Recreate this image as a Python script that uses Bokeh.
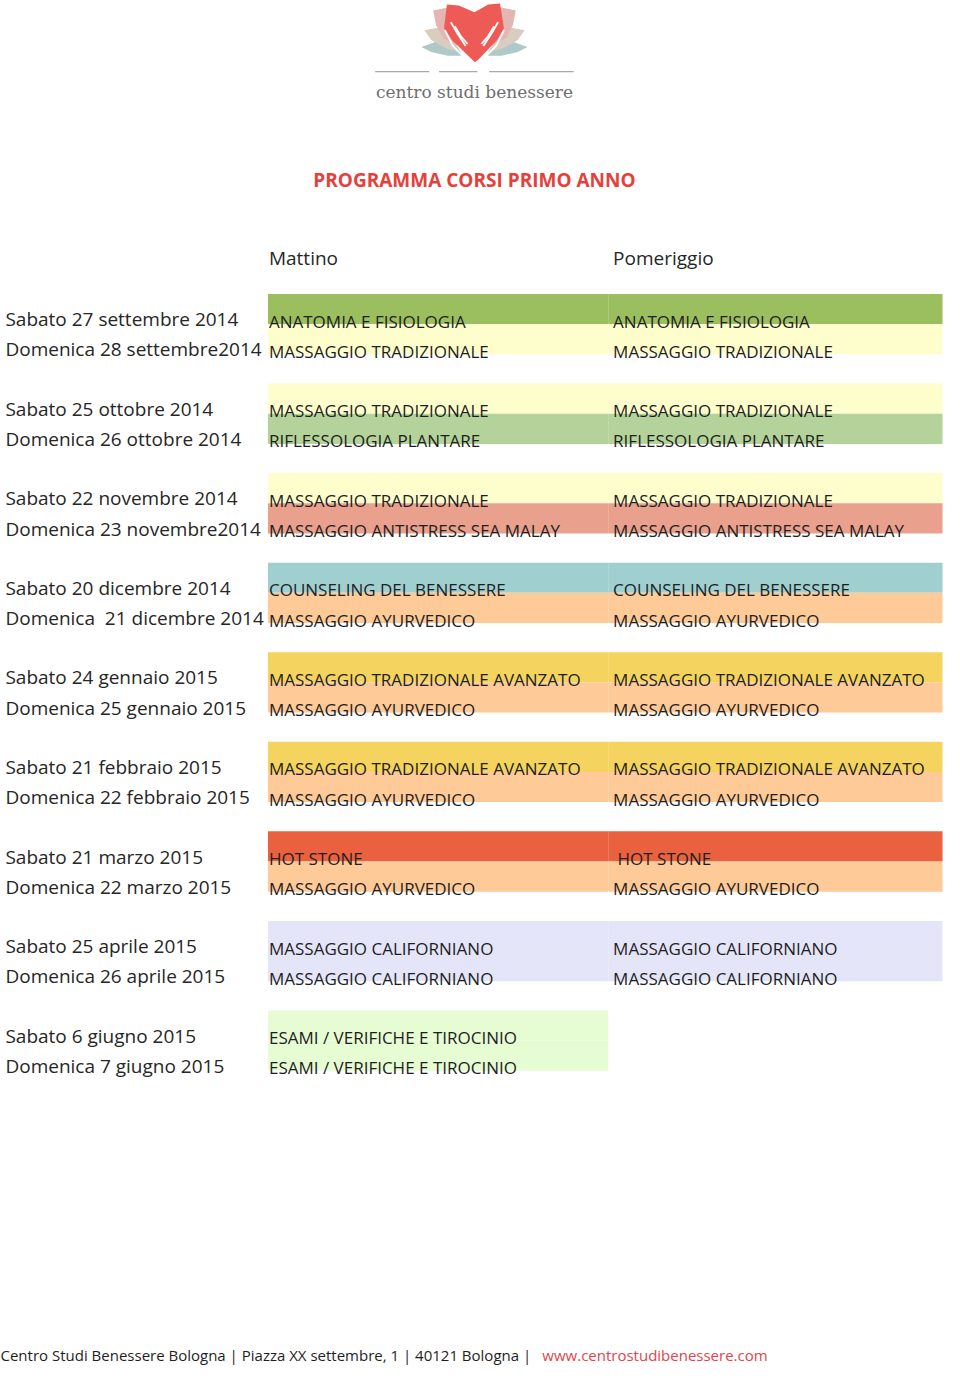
from bokeh.plotting import figure
from bokeh.models import Range1d
from bokeh.core.properties import value
from bokeh.embed import file_html
from bokeh.resources import INLINE

# ---------------- data ----------------
title = "PROGRAMMA CORSI PRIMO ANNO"
col_headers = ["Mattino", "Pomeriggio"]
dates = [
    "Sabato 27 settembre 2014", "Domenica 28 settembre2014",
    "Sabato 25 ottobre 2014", "Domenica 26 ottobre 2014",
    "Sabato 22 novembre 2014", "Domenica 23 novembre2014",
    "Sabato 20 dicembre 2014", "Domenica\u00a0 21 dicembre 2014",
    "Sabato 24 gennaio 2015", "Domenica 25 gennaio 2015",
    "Sabato 21 febbraio 2015", "Domenica 22 febbraio 2015",
    "Sabato 21 marzo 2015", "Domenica 22 marzo 2015",
    "Sabato 25 aprile 2015", "Domenica 26 aprile 2015",
    "Sabato 6 giugno 2015", "Domenica 7 giugno 2015",
]
mattino = [
    "ANATOMIA E FISIOLOGIA", "MASSAGGIO TRADIZIONALE",
    "MASSAGGIO TRADIZIONALE", "RIFLESSOLOGIA PLANTARE",
    "MASSAGGIO TRADIZIONALE", "MASSAGGIO ANTISTRESS SEA MALAY",
    "COUNSELING DEL BENESSERE", "MASSAGGIO AYURVEDICO",
    "MASSAGGIO TRADIZIONALE AVANZATO", "MASSAGGIO AYURVEDICO",
    "MASSAGGIO TRADIZIONALE AVANZATO", "MASSAGGIO AYURVEDICO",
    "HOT STONE", "MASSAGGIO AYURVEDICO",
    "MASSAGGIO CALIFORNIANO", "MASSAGGIO CALIFORNIANO",
    "ESAMI / VERIFICHE E TIROCINIO", "ESAMI / VERIFICHE E TIROCINIO",
]
pomeriggio = [
    "ANATOMIA E FISIOLOGIA", "MASSAGGIO TRADIZIONALE",
    "MASSAGGIO TRADIZIONALE", "RIFLESSOLOGIA PLANTARE",
    "MASSAGGIO TRADIZIONALE", "MASSAGGIO ANTISTRESS SEA MALAY",
    "COUNSELING DEL BENESSERE", "MASSAGGIO AYURVEDICO",
    "MASSAGGIO TRADIZIONALE AVANZATO", "MASSAGGIO AYURVEDICO",
    "MASSAGGIO TRADIZIONALE AVANZATO", "MASSAGGIO AYURVEDICO",
    "\u00a0HOT STONE", "MASSAGGIO AYURVEDICO",
    "MASSAGGIO CALIFORNIANO", "MASSAGGIO CALIFORNIANO",
    "", "",
]
footer_text = "Centro Studi Benessere Bologna | Piazza XX settembre, 1 | 40121 Bologna |"
footer_link = "www.centrostudibenessere.com"
logo_text = "centro studi benessere"

# ---------------- styles ----------------
course_colors = {
    "ANATOMIA E FISIOLOGIA": "#9BBF5F",
    "MASSAGGIO TRADIZIONALE": "#FEFECC",
    "RIFLESSOLOGIA PLANTARE": "#B4D39A",
    "MASSAGGIO ANTISTRESS SEA MALAY": "#E9A08C",
    "COUNSELING DEL BENESSERE": "#A0CFD0",
    "MASSAGGIO AYURVEDICO": "#FDCA98",
    "MASSAGGIO TRADIZIONALE AVANZATO": "#F4D35F",
    "HOT STONE": "#E9613F",
    "MASSAGGIO CALIFORNIANO": "#E4E5F9",
    "ESAMI / VERIFICHE E TIROCINIO": "#E6FDD3",
}
FONT = value("Open Sans")
TOP0, PAIR_PITCH, ROW_H = 297.0, 90.6, 30.5
X_DATE, X_M, X_P, X_SPLIT, X_END = 5, 273, 623, 618, 958

p = figure(width=944, height=1366, x_range=Range1d(0, 960), y_range=Range1d(1382, 0),
           output_backend="svg", toolbar_location=None, min_border=0)
p.axis.visible = False
p.grid.visible = False
p.outline_line_color = None
p.background_fill_color = "white"
p.border_fill_color = "white"

# ---------------- table bands ----------------
tops = [TOP0 + PAIR_PITCH * (i // 2) + ROW_H * (i % 2) for i in range(len(dates))]
ml, mr, mt, mb, mc = [], [], [], [], []
for i, c in enumerate(mattino):
    ml.append(272); mr.append(X_SPLIT); mt.append(tops[i]); mb.append(tops[i] + ROW_H)
    mc.append(course_colors[c.strip()])
for i, c in enumerate(pomeriggio):
    key = c.replace("\u00a0", "").strip()
    if key:
        ml.append(X_SPLIT); mr.append(X_END); mt.append(tops[i]); mb.append(tops[i] + ROW_H)
        mc.append(course_colors[key])
p.quad(left=ml, right=mr, top=mt, bottom=mb, fill_color=mc, line_color=None)

# dates
p.text(x=[X_DATE] * len(dates), y=[t + 25.5 for t in tops], text=dates,
       text_font=FONT, text_font_size="19px", text_color="#262626",
       text_baseline="alphabetic", text_align="left")
# courses
p.text(x=[X_M] * len(mattino), y=[t + 27.5 for t in tops], text=mattino,
       text_font=FONT, text_font_size="17px", text_color="#1e1e1e",
       text_baseline="alphabetic", text_align="left")
p.text(x=[X_P] * len(pomeriggio), y=[t + 27.5 for t in tops], text=pomeriggio,
       text_font=FONT, text_font_size="17px", text_color="#1e1e1e",
       text_baseline="alphabetic", text_align="left")

# column headers
p.text(x=[X_M, X_P], y=[261, 261], text=col_headers, text_font=FONT,
       text_font_size="19px", text_color="#262626", text_baseline="alphabetic")

# title
p.text(x=[482], y=[182], text=[title], text_font=FONT, text_font_size="19px",
       text_font_style="bold", text_color="#E5413C", text_align="center",
       text_baseline="alphabetic")

# footer
p.text(x=[0], y=[1370], text=[footer_text], text_font=FONT, text_font_size="15px",
       text_color="#1e1e1e", text_baseline="alphabetic")
p.text(x=[551], y=[1370], text=[footer_link], text_font=FONT, text_font_size="15px",
       text_color="#E0454C", text_baseline="alphabetic")

# ---------------- logo ----------------
def mirror(xs, cx=482):
    return [2 * cx - x for x in xs]

petal_teal_x = [428, 445, 462, 470, 455, 438]
petal_teal_y = [47, 41, 42, 56, 56, 52]
petal_beige_x = [431, 447, 460, 466, 452, 438]
petal_beige_y = [30, 27, 32, 52, 48, 40]
petal_pink_x = [440, 455, 462, 463, 450, 443]
petal_pink_y = [10, 7, 14, 45, 38, 25]
for xs, ys, col in [(petal_teal_x, petal_teal_y, "#AFC9C8"),
                    (petal_beige_x, petal_beige_y, "#D9CCC0"),
                    (petal_pink_x, petal_pink_y, "#E3B5B3")]:
    p.patch(xs, ys, fill_color=col, line_color=None)
    p.patch(mirror(xs), ys, fill_color=col, line_color=None)

heart_x = [454, 466, 482, 496, 508, 512, 505, 483, 459, 451]
heart_y = [4, 5, 12, 4, 3, 28, 40, 63, 40, 28]
p.patch(heart_x, heart_y, fill_color="#EE5B56", line_color=None)

# hands (white strokes)
hand_xs = [[452, 460, 471, 481], [458, 465, 473], [462, 468, 475],
           mirror([452, 460, 471, 481]), mirror([458, 465, 473]), mirror([462, 468, 475])]
hand_ys = [[30, 46, 57, 63], [22, 34, 46], [26, 36, 44],
           [30, 46, 57, 63], [22, 34, 46], [26, 36, 44]]
p.multi_line(hand_xs, hand_ys, line_color="white", line_width=1.8)

p.segment(x0=[381, 446, 497], y0=[72, 72, 72], x1=[436, 485, 583], y1=[72, 72, 72],
          line_color="#A9A9A9", line_width=1.2)
p.text(x=[482], y=[93], text=[logo_text], text_font=value("DejaVu Serif"),
       text_font_size="17px", text_color="#6E6E6E", text_align="center",
       text_baseline="alphabetic")

open("out.html", "w").write(file_html(p, INLINE))
